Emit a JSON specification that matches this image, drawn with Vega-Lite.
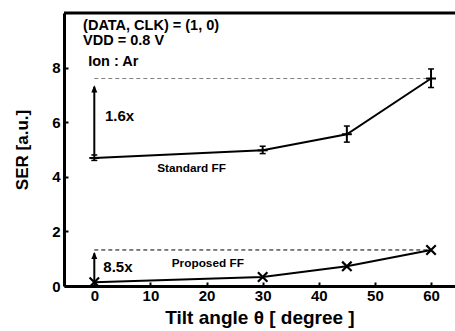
{
  "$schema": "https://vega.github.io/schema/vega-lite/v6.json",
  "autosize": "none",
  "padding": {"left": 64, "top": 13, "right": 0, "bottom": 45},
  "width": 391,
  "height": 273,
  "background": "white",
  "config": {
    "font": "Liberation Sans",
    "view": {"stroke": null},
    "axis": {
      "grid": false,
      "domainColor": "black",
      "domainWidth": 3,
      "tickColor": "black",
      "tickWidth": 2,
      "tickSize": -4,
      "labelFont": "Liberation Sans",
      "labelFontWeight": "bold",
      "labelFontSize": 15,
      "labelColor": "black",
      "titleFont": "Liberation Sans",
      "titleFontWeight": "bold",
      "titleColor": "black"
    }
  },
  "datasets": {
    "standard": [
      {"angle": 0, "ser": 4.69, "lo": 4.6, "hi": 4.8},
      {"angle": 30, "ser": 4.97, "lo": 4.85, "hi": 5.12},
      {"angle": 45, "ser": 5.56, "lo": 5.27, "hi": 5.86},
      {"angle": 60, "ser": 7.6, "lo": 7.27, "hi": 7.95}
    ],
    "proposed": [
      {"angle": 0, "ser": 0.14},
      {"angle": 30, "ser": 0.33},
      {"angle": 45, "ser": 0.72},
      {"angle": 60, "ser": 1.32}
    ],
    "guides": [
      {"angle": 0, "angle2": 60, "ser": 7.6, "kind": "upper"},
      {"angle": 0, "angle2": 60, "ser": 1.32, "kind": "lower"}
    ],
    "frame": [
      {"angle": -5.4, "angle2": 64.27, "ser": 10}
    ],
    "arrows": [
      {"angle": 0, "ser": 4.78, "ser2": 7.3, "tip": 7.35},
      {"angle": 0, "ser": 0.18, "ser2": 1.2, "tip": 1.25}
    ],
    "notes": [
      {"angle": -2.0, "ser": 9.39, "label": "(DATA, CLK) = (1, 0)"},
      {"angle": -2.0, "ser": 8.81, "label": "VDD = 0.8 V"}
    ],
    "ion": [
      {"angle": -1.1, "ser": 8.06, "label": "Ion : Ar"}
    ],
    "ratios": [
      {"angle": 1.9, "ser": 6.03, "label": "1.6x"},
      {"angle": 1.6, "ser": 0.53, "label": "8.5x"}
    ],
    "series": [
      {"angle": 11.2, "ser": 4.18, "label": "Standard FF"},
      {"angle": 13.8, "ser": 0.71, "label": "Proposed FF"}
    ]
  },
  "encoding": {
    "x": {"field": "angle", "type": "quantitative", "scale": {"domain": [-5.4, 64.27], "nice": false, "zero": false},
          "axis": {"values": [0, 10, 20, 30, 40, 50, 60], "title": "Tilt angle θ [ degree ]", "titleFontSize": 19, "labelPadding": 6, "titlePadding": 5}},
    "y": {"field": "ser", "type": "quantitative", "scale": {"domain": [0, 10], "nice": false, "zero": true},
          "axis": {"values": [0, 2, 4, 6, 8], "title": "SER [a.u.]", "titleFontSize": 17, "labelPadding": 8, "titlePadding": 20}}
  },
  "layer": [
    {
      "data": {"name": "frame"},
      "mark": {"type": "rule", "strokeWidth": 3, "color": "black"},
      "encoding": {
        "x2": {"field": "angle2"}
      }
    },
    {
      "data": {"name": "guides"},
      "mark": {"type": "rule", "strokeWidth": 1, "strokeDash": [4, 3]},
      "encoding": {
        "x2": {"field": "angle2"},
        "color": {"field": "kind", "type": "nominal", "scale": {"domain": ["upper", "lower"], "range": ["#808080", "black"]}, "legend": null}
      }
    },
    {
      "data": {"name": "arrows"},
      "mark": {"type": "rule", "strokeWidth": 2, "color": "black"},
      "encoding": {
        "y2": {"field": "ser2"}
      }
    },
    {
      "data": {"name": "arrows"},
      "mark": {"type": "point", "shape": "M0,0L-1,2.4L1,2.4Z", "size": 36, "filled": true, "color": "black", "opacity": 1},
      "encoding": {
        "y": {"field": "tip", "type": "quantitative"}
      }
    },
    {
      "data": {"name": "standard"},
      "mark": {"type": "line", "color": "black", "strokeWidth": 2}
    },
    {
      "data": {"name": "standard"},
      "mark": {"type": "rule", "color": "black", "strokeWidth": 2},
      "encoding": {
        "y": {"field": "lo", "type": "quantitative"},
        "y2": {"field": "hi"}
      }
    },
    {
      "data": {"name": "standard"},
      "transform": [{"fold": ["lo", "hi"], "as": ["end", "v"]}],
      "mark": {"type": "tick", "orient": "horizontal", "color": "black", "size": 6, "thickness": 1.5, "opacity": 1},
      "encoding": {
        "y": {"field": "v", "type": "quantitative"}
      }
    },
    {
      "data": {"name": "standard"},
      "mark": {"type": "tick", "orient": "horizontal", "color": "black", "size": 10, "thickness": 2, "opacity": 1}
    },
    {
      "data": {"name": "proposed"},
      "mark": {"type": "line", "color": "black", "strokeWidth": 2}
    },
    {
      "data": {"name": "proposed"},
      "mark": {"type": "point", "shape": "M-1,-1L1,1M-1,1L1,-1", "size": 90, "filled": false, "color": "black", "strokeWidth": 2.2, "opacity": 1}
    },
    {
      "data": {"name": "notes"},
      "mark": {"type": "text", "align": "left", "baseline": "alphabetic", "font": "Liberation Sans", "fontWeight": "bold", "fontSize": 14.5, "color": "black"},
      "encoding": {"text": {"field": "label"}}
    },
    {
      "data": {"name": "ion"},
      "mark": {"type": "text", "align": "left", "baseline": "alphabetic", "font": "Liberation Sans", "fontWeight": "bold", "fontSize": 14.5, "color": "black"},
      "encoding": {"text": {"field": "label"}}
    },
    {
      "data": {"name": "ratios"},
      "mark": {"type": "text", "align": "left", "baseline": "alphabetic", "font": "Liberation Sans", "fontWeight": "bold", "fontSize": 15, "color": "black"},
      "encoding": {"text": {"field": "label"}}
    },
    {
      "data": {"name": "series"},
      "mark": {"type": "text", "align": "left", "baseline": "alphabetic", "font": "Liberation Sans", "fontWeight": "bold", "fontSize": 11.8, "color": "black"},
      "encoding": {"text": {"field": "label"}}
    }
  ]
}
